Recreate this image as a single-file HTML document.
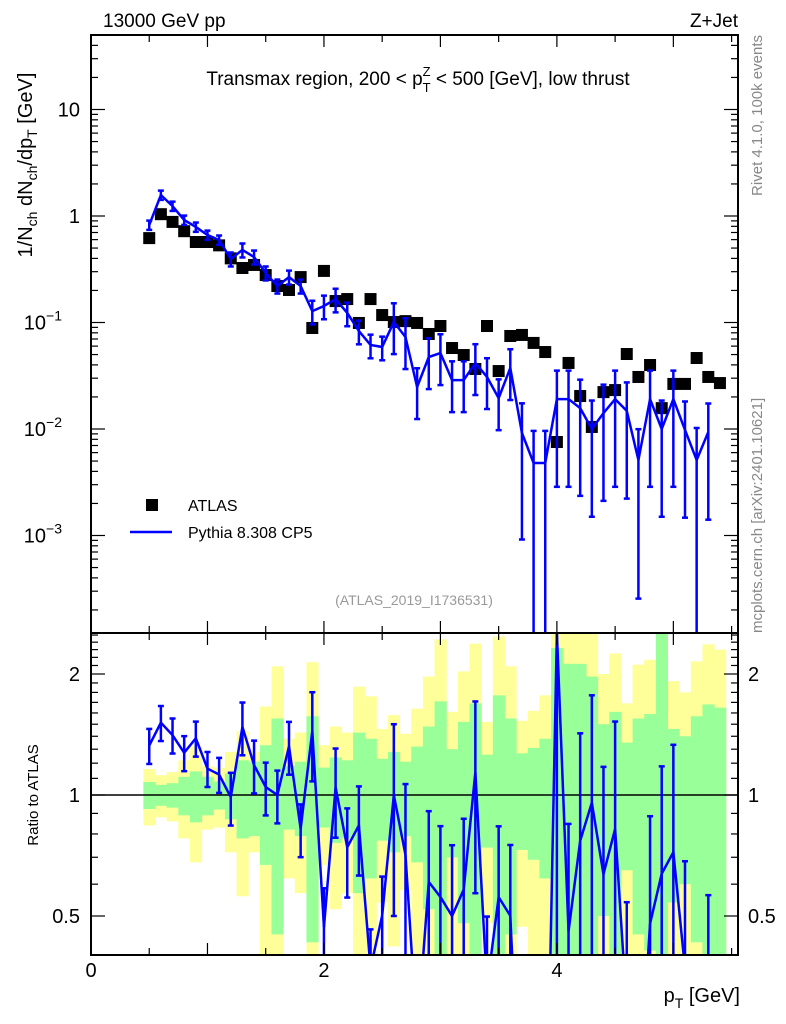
<!DOCTYPE html>
<html><head><meta charset="utf-8"><style>
html,body{margin:0;background:#fff;width:786px;height:1024px;overflow:hidden}
svg{display:block;font-family:"Liberation Sans",Arial,sans-serif}
</style></head><body>
<svg id="c" width="786" height="1024" viewBox="0 0 786 1024" xmlns="http://www.w3.org/2000/svg">
<defs>
<clipPath id="cm"><rect x="91" y="35" width="647" height="598"/></clipPath>
<clipPath id="cr"><rect x="91" y="633" width="647" height="322"/></clipPath>
</defs>
<g id="bands" clip-path="url(#cr)"></g>
<g id="marks"></g>
<g id="axes"></g>
<text x="103" y="27" font-size="19">13000 GeV pp</text>
<text x="738" y="27" font-size="19" text-anchor="end">Z+Jet</text>
<text x="418" y="85" font-size="19" text-anchor="middle">Transmax region, 200 &lt; p<tspan font-size="13" dy="7">T</tspan><tspan font-size="13" dx="-8" dy="-16">Z</tspan><tspan dy="9"> &lt; 500 [GeV], low thrust</tspan></text>
<text transform="translate(32,165) rotate(-90)" font-size="20" text-anchor="middle">1/N<tspan font-size="14" dy="5">ch</tspan><tspan dy="-5"> dN</tspan><tspan font-size="14" dy="5">ch</tspan><tspan dy="-5">/dp</tspan><tspan font-size="14" dy="5">T</tspan><tspan dy="-5"> [GeV]</tspan></text>
<text transform="translate(38,795) rotate(-90)" font-size="15" text-anchor="middle">Ratio to ATLAS</text>
<text x="740" y="1002" font-size="20" text-anchor="end">p<tspan font-size="14" dy="6">T</tspan><tspan dy="-6"> [GeV]</tspan></text>
<text transform="translate(762,35) rotate(-90)" font-size="15" fill="#888" text-anchor="end">Rivet 4.1.0,  100k events</text>
<text transform="translate(762,633) rotate(-90)" font-size="15" fill="#888" text-anchor="start">mcplots.cern.ch [arXiv:2401.10621]</text>
<text x="414" y="605" font-size="14" fill="#999" text-anchor="middle">(ATLAS_2019_I1736531)</text>
<rect x="146" y="499" width="12" height="12" fill="#000"/>
<text x="188" y="511" font-size="16">ATLAS</text>
<line x1="130" y1="532" x2="172" y2="532" stroke="#0000ff" stroke-width="2.5"/>
<text x="188" y="538" font-size="16">Pythia 8.308 CP5</text>
</svg>
<script>
const atlasVals=[0.62,1.04,0.88,0.72,0.57,0.57,0.53,0.40,0.325,0.347,0.279,0.22,0.202,0.267,0.0888,0.305,0.159,0.166,0.099,0.166,0.1175,0.101,0.103,0.099,0.078,0.0927,0.0576,0.0495,0.0366,0.0927,0.035,0.0747,0.0764,0.0643,0.0528,0.00755,0.0417,0.0204,0.01045,0.0222,0.0232,0.0506,0.0308,0.0399,0.0157,0.0265,0.0265,0.0464,0.0308,0.027];
const mcVals=[0.823,1.574,1.24,0.917,0.789,0.663,0.596,0.395,0.48,0.412,0.292,0.22,0.267,0.22,0.128,0.143,0.166,0.123,0.0832,0.0615,0.0589,0.101,0.0731,0.0248,0.0474,0.0517,0.0288,0.0288,0.0417,0.0308,0.0195,0.0374,0.00917,0.0048,0.0048,0.0191,0.0191,0.0157,0.0100,0.0141,0.0191,0.0148,0.00511,0.0191,0.0100,0.0191,0.0098,0.00511,0.00938];
const mcRelErr=[0.1,0.1,0.1,0.1,0.1,0.1,0.1,0.15,0.15,0.15,0.15,0.15,0.15,0.15,0.25,0.25,0.25,0.25,0.25,0.25,0.25,0.5,0.5,0.5,0.5,0.5,0.5,0.5,0.5,0.5,0.5,0.5,0.9,1.0,1.0,0.85,0.85,0.85,0.85,0.85,0.85,0.85,0.95,0.85,0.85,0.85,0.85,1.0,0.85];
const statBand=[0.077,0.06,0.07,0.11,0.145,0.11,0.08,0.13,0.22,0.21,0.33,0.55,0.18,0.21,0.57,0.17,0.24,0.22,0.43,0.38,0.23,0.28,0.21,0.32,0.48,0.71,0.30,0.52,0.69,0.26,0.77,0.55,0.27,0.31,0.38,1.32,1.12,1.12,0.97,0.50,0.61,0.35,0.55,0.59,1.6,0.46,0.40,0.57,0.68,0.65];
const totBand=[0.16,0.12,0.14,0.22,0.32,0.18,0.17,0.28,0.44,0.28,0.66,1.09,0.38,0.43,1.14,0.33,0.48,0.43,0.86,0.76,0.46,0.58,0.42,0.64,0.97,1.44,0.61,1.03,1.38,0.52,1.48,1.09,0.53,0.62,0.77,1.6,1.6,1.6,1.6,1.0,1.25,0.69,1.11,1.17,1.6,0.92,0.80,1.15,1.37,1.30];
const binStart=0.45, binWidth=0.1;
const xTickLabels=["0","2","4"];
const yTickExps=[1,0,-1,-2,-3];
const ratioTickLabels=["2","1","0.5"];

const NS="http://www.w3.org/2000/svg";
const L=91,R=738,T=35,B=633,RB=955;
const X=v=>L+(v-0)/5.555*(R-L);
const Y=v=>216-Math.log10(v)*106.5;
const RY=v=>795-Math.log2(Math.max(v,1e-6))*121;
function mk(tag,attrs,parent){const e=document.createElementNS(NS,tag);for(const k in attrs)e.setAttribute(k,attrs[k]);parent.appendChild(e);return e;}
const bands=document.getElementById('bands'),marks=document.getElementById('marks'),axes=document.getElementById('axes');
const cx=i=>binStart+binWidth*(i+0.5);

totBand.forEach((e,i)=>{const x0=X(binStart+binWidth*i),x1=X(binStart+binWidth*(i+1));
 const r=mk('rect',{x:x0,y:RY(1+e),width:x1-x0+0.5,height:RY(Math.max(1-e,0.001))-RY(1+e),fill:'#ffff99'},bands);
 
 });
statBand.forEach((e,i)=>{const x0=X(binStart+binWidth*i),x1=X(binStart+binWidth*(i+1));
 const r=mk('rect',{x:x0,y:RY(1+e),width:x1-x0+0.5,height:RY(Math.max(1-e,0.001))-RY(1+e),fill:'#99ff99'},bands);
 
 });

const gm=mk('g',{'clip-path':'url(#cm)'},marks);
atlasVals.forEach((v,i)=>{const r=mk('rect',{x:X(cx(i))-6,y:Y(v)-6,width:12,height:12,fill:'#000'},gm);
 
 });
mcVals.forEach((v,i)=>{const e=v*mcRelErr[i];const x=X(cx(i));const lo=v-e>0?Y(v-e):B+10,hi=Y(v+e);
 const g=mk('g',{stroke:'#0000ff','stroke-width':2.5},gm);
 
 
 mk('line',{x1:x,x2:x,y1:hi,y2:lo},g);mk('line',{x1:x-3,x2:x+3,y1:hi,y2:hi},g);mk('line',{x1:x-3,x2:x+3,y1:lo,y2:lo},g);});
const pl=mk('polyline',{points:mcVals.map((v,i)=>X(cx(i))+','+Y(v)).join(' '),fill:'none',stroke:'#0000ff','stroke-width':2.5},gm);



const gr=mk('g',{'clip-path':'url(#cr)'},marks);
mk('line',{x1:L,x2:R,y1:RY(1),y2:RY(1),stroke:'#000','stroke-width':1.5},gr);
const ratios=mcVals.map((v,i)=>v/atlasVals[i]);
ratios.forEach((r,i)=>{const e=r*mcRelErr[i];const x=X(cx(i));const lo=r-e>0.01?RY(r-e):RB+10,hi=RY(r+e);
 const g=mk('g',{stroke:'#0000ff','stroke-width':2.5},gr);
 
 
 mk('line',{x1:x,x2:x,y1:hi,y2:lo},g);mk('line',{x1:x-3,x2:x+3,y1:hi,y2:hi},g);mk('line',{x1:x-3,x2:x+3,y1:lo,y2:lo},g);});
const rl=mk('polyline',{points:ratios.map((r,i)=>X(cx(i))+','+RY(r)).join(' '),fill:'none',stroke:'#0000ff','stroke-width':2.5},gr);



mk('rect',{x:L,y:T,width:R-L,height:B-T,fill:'none',stroke:'#000','stroke-width':2},axes);
mk('rect',{x:L,y:B,width:R-L,height:RB-B,fill:'none',stroke:'#000','stroke-width':2},axes);
for(let k=0;k<=11;k++){const v=k*0.5,x=X(v);if(x>R)break;const len=k%2==0?12:7;
 [[T,T+len],[B,B-len],[B,B+len],[RB,RB-len]].forEach(p=>mk('line',{x1:x,x2:x,y1:p[0],y2:p[1],stroke:'#000','stroke-width':1.2},axes));}
xTickLabels.forEach(s=>{const t=mk('text',{x:X(+s),y:977,'font-size':20,'text-anchor':'middle'},axes);t.textContent=s;
 
 });
for(let d=-4;d<=1;d++){for(let m=1;m<10;m++){const v=m*Math.pow(10,d),y=Y(v);if(y<T||y>B)continue;const len=m==1?14:7;
 mk('line',{x1:L,x2:L+len,y1:y,y2:y,stroke:'#000','stroke-width':1.2},axes);mk('line',{x1:R,x2:R-len,y1:y,y2:y,stroke:'#000','stroke-width':1.2},axes);}}
yTickExps.forEach(e=>{const y=Y(Math.pow(10,e));const t=mk('text',{x:80,y:y+7,'font-size':20,'text-anchor':'end'},axes);
 
 
 if(e==1)t.textContent='10';else if(e==0)t.textContent='1';else{t.textContent='10';const s=document.createElementNS(NS,'tspan');s.setAttribute('font-size','14');s.setAttribute('dy','-9');s.textContent='\u2212'+(-e);t.appendChild(s);t.setAttribute('x',62);}});
const rt=[0.4,0.5,0.6,0.7,0.8,0.9,1,1.1,1.2,1.3,1.4,1.5,1.6,1.7,1.8,1.9,2,2.1,2.2,2.3,2.4,2.5];
rt.forEach(v=>{const y=RY(v);if(y<B||y>RB)return;const len=(v==0.5||v==1||v==2)?14:7;
 mk('line',{x1:L,x2:L+len,y1:y,y2:y,stroke:'#000','stroke-width':1.2},axes);mk('line',{x1:R,x2:R-len,y1:y,y2:y,stroke:'#000','stroke-width':1.2},axes);});
ratioTickLabels.forEach(s=>{const y=RY(+s)+7;
 const a=mk('text',{x:80,y:y,'font-size':20,'text-anchor':'end'},axes);a.textContent=s;
 
 
 const b=mk('text',{x:748,y:y,'font-size':20},axes);b.textContent=s;
 
 });
</script>
</body></html>
